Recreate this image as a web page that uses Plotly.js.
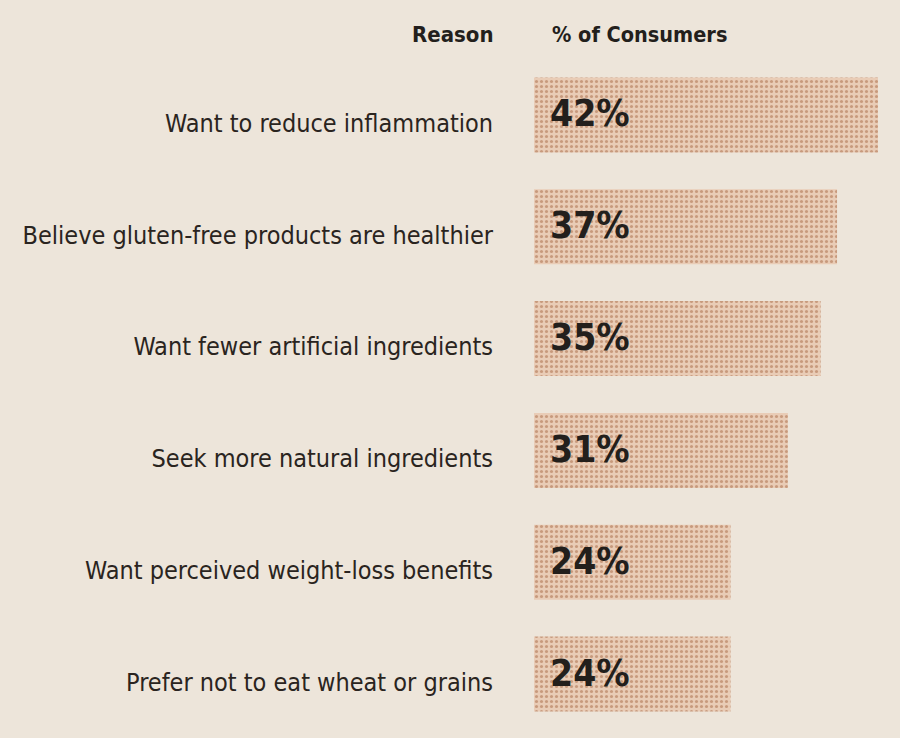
<!DOCTYPE html>
<html><head><meta charset="utf-8">
<script src="https://cdn.plot.ly/plotly-3.0.1.min.js"></script>
<style>html,body{margin:0;padding:0;background:#ede5da;}</style>
</head><body>
<div id="chart" style="width:900px;height:738px;"></div>
<script>
const reasons = [
  "Want to reduce inflammation",
  "Believe gluten-free products are healthier",
  "Want fewer artificial ingredients",
  "Seek more natural ingredients",
  "Want perceived weight-loss benefits",
  "Prefer not to eat wheat or grains"
];
const percents = [42, 37, 35, 31, 24, 24];
const headerLeft = "Reason";
const headerRight = "% of Consumers";

const labelFont = "'DejaVu Sans Condensed', 'Liberation Sans Narrow', sans-serif";

const trace = {
  type: "bar",
  orientation: "h",
  x: percents,
  y: reasons,
  marker: {
    color: "#e5c6ae",
    line: {width: 0},
    pattern: {shape: ".", fgcolor: "#c89a7d", bgcolor: "#e9ccb6", size: 5, solidity: 0.3, fillmode: "replace"}
  },
  hoverinfo: "none"
};

const valueAnnotations = percents.map((p, i) => ({
  x: 0, y: reasons[i], xref: "x", yref: "y",
  text: "<b>" + p + "%</b>",
  showarrow: false, xanchor: "left", xshift: 14, yshift: 1,
  font: {family: labelFont, size: 37, color: "#231f1c"}
}));

const layout = {
  width: 900, height: 738,
  paper_bgcolor: "#ede5da", plot_bgcolor: "#ede5da",
  margin: {l: 534, r: 22, t: 58.5, b: 7.5, pad: 0},
  bargap: 0.33,
  showlegend: false,
  xaxis: {range: [0, 42], visible: false, fixedrange: true},
  yaxis: {
    autorange: "reversed", showgrid: false, zeroline: false, showline: false,
    ticks: "", ticklabelstandoff: 40, ticklabelshift: -8,
    tickfont: {family: labelFont, size: 25, color: "#2a2420"}
  },
  annotations: valueAnnotations.concat([
    {xref: "paper", yref: "paper", x: -0.1096, y: 1.0, yanchor: "bottom", xanchor: "right",
     yshift: 10, text: "<b>" + headerLeft + "</b>", showarrow: false,
     font: {family: labelFont, size: 22, color: "#231f1c"}},
    {xref: "paper", yref: "paper", x: 0.047, y: 1.0, yanchor: "bottom", xanchor: "left",
     yshift: 10, text: "<b>" + headerRight + "</b>", showarrow: false,
     font: {family: labelFont, size: 21.5, color: "#231f1c"}}
  ])
};

Plotly.newPlot("chart", [trace], layout, {displayModeBar: false, staticPlot: true});
</script>
</body></html>
